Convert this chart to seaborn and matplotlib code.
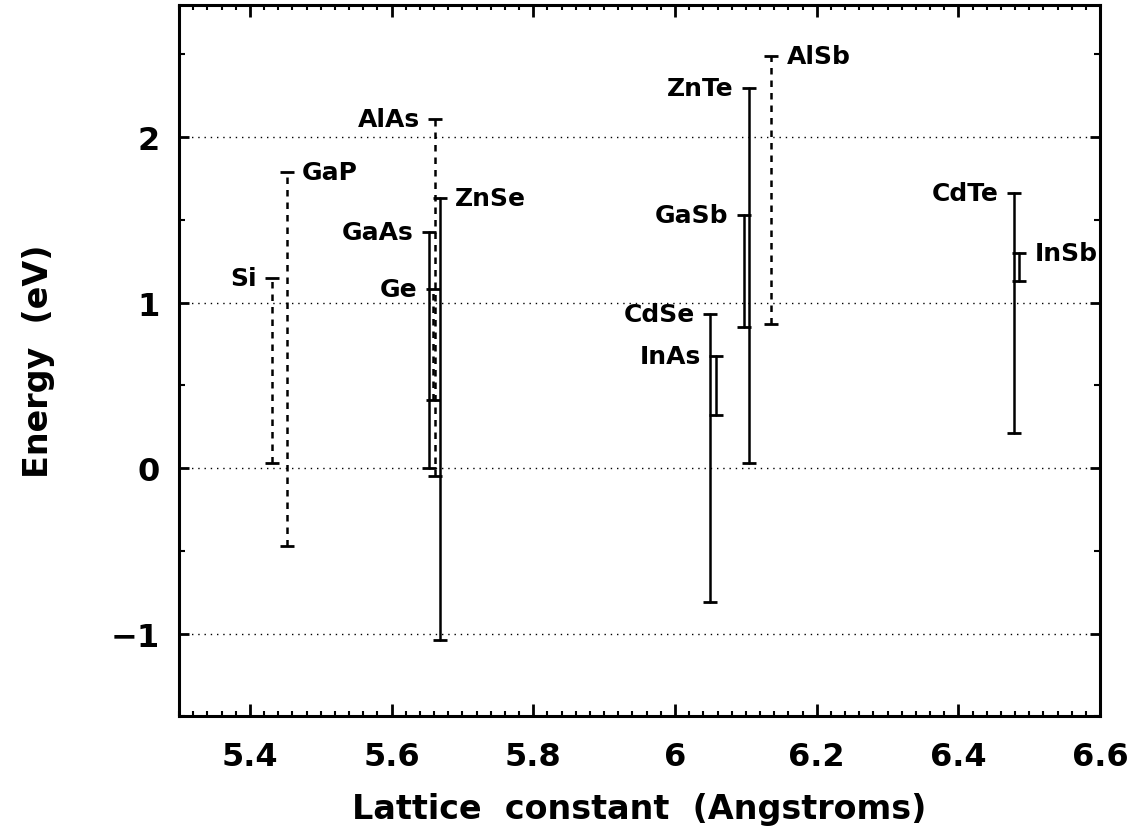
import matplotlib
matplotlib.use("Agg")
import numpy as np
import pandas as pd
import matplotlib.pyplot as plt
import seaborn as sns
from matplotlib.ticker import MultipleLocator, FuncFormatter

# ---- data ----
materials = ["Si", "GaP", "AlAs", "GaAs", "Ge", "ZnSe", "CdSe", "InAs",
             "GaSb", "ZnTe", "AlSb", "CdTe", "InSb"]
lattice = [5.431, 5.452, 5.661, 5.653, 5.658, 5.668, 6.050, 6.058,
           6.097, 6.104, 6.136, 6.478, 6.486]
e_top = [1.15, 1.79, 2.11, 1.43, 1.08, 1.63, 0.93, 0.68,
         1.53, 2.30, 2.49, 1.66, 1.30]
e_bottom = [0.03, -0.47, -0.05, 0.00, 0.41, -1.04, -0.81, 0.32,
            0.85, 0.03, 0.87, 0.21, 1.13]
gap_type = ["indirect", "indirect", "indirect", "direct", "indirect", "direct",
            "direct", "direct", "direct", "direct", "indirect", "direct", "direct"]
label_side = ["left", "right", "left", "left", "left", "right", "left", "left",
              "left", "left", "right", "left", "right"]

x_ticks = [5.4, 5.6, 5.8, 6.0, 6.2, 6.4, 6.6]
y_ticks = [-1, 0, 1, 2]

# long-form table for seaborn
rows = []
for m, a, t, b, k in zip(materials, lattice, e_top, e_bottom, gap_type):
    rows.append({"material": m, "a": a, "E": b, "kind": k})
    rows.append({"material": m, "a": a, "E": t, "kind": k})
df = pd.DataFrame(rows)

sns.set_style("ticks")
plt.rcParams["font.family"] = ["DejaVu Sans"]
plt.rcParams["font.weight"] = "bold"
plt.rcParams["text.color"] = "black"
plt.rcParams["axes.labelcolor"] = "black"

fig, ax = plt.subplots(figsize=(11.33, 8.37), dpi=100)
fig.subplots_adjust(left=0.158, right=0.971, top=0.993, bottom=0.143)

sns.lineplot(data=df, x="a", y="E", units="material", estimator=None,
             style="kind", dashes={"direct": "", "indirect": (2.6, 2.4)},
             markers={"direct": "_", "indirect": "_"},
             color="black", lw=1.8, markersize=10, markeredgewidth=2.0,
             markeredgecolor="black", markerfacecolor="black",
             legend=False, sort=False, ax=ax, zorder=3)

for m, a, t, side in zip(materials, lattice, e_top, label_side):
    off = -11 if side == "left" else 11
    ax.annotate(m, (a, t), xytext=(off, 0), textcoords="offset points",
                ha="right" if side == "left" else "left", va="center",
                fontsize=18, fontweight="bold", color="black")

ax.set_xlim(5.3, 6.6)
ax.set_ylim(-1.5, 2.8)
ax.set_xticks(x_ticks)
ax.set_yticks(y_ticks)
ax.xaxis.set_minor_locator(MultipleLocator(0.02))
ax.yaxis.set_minor_locator(MultipleLocator(0.5))
ax.xaxis.set_major_formatter(FuncFormatter(lambda v, p: f"{v:g}"))
ax.yaxis.set_major_formatter(FuncFormatter(lambda v, p: f"{v:g}".replace("-", "\u2212")))

ax.yaxis.grid(True, which="major", linestyle=(0, (1, 3.5)), color="black", lw=1.0)
ax.xaxis.grid(False)
ax.set_axisbelow(True)

for s in ax.spines.values():
    s.set_visible(True)
    s.set_linewidth(2.2)
    s.set_color("black")

ax.tick_params(which="both", direction="in", top=True, right=True,
               bottom=True, left=True, colors="black")
ax.tick_params(axis="x", which="major", length=8.5, width=2, pad=18, labelsize=23)
ax.tick_params(axis="x", which="minor", length=3.5, width=1.5)
ax.tick_params(axis="y", which="major", length=7, width=2, pad=14, labelsize=23)
ax.tick_params(axis="y", which="minor", length=4, width=1.5)
for lab in ax.get_xticklabels() + ax.get_yticklabels():
    lab.set_fontweight("bold")
    lab.set_color("black")

ax.set_xlabel("Lattice  constant  (Angstroms)", fontsize=24, fontweight="bold",
              labelpad=14, color="black")
ax.set_ylabel("Energy  (eV)", fontsize=24, fontweight="bold", labelpad=40,
              color="black")

fig.savefig("out.png", dpi=100)
